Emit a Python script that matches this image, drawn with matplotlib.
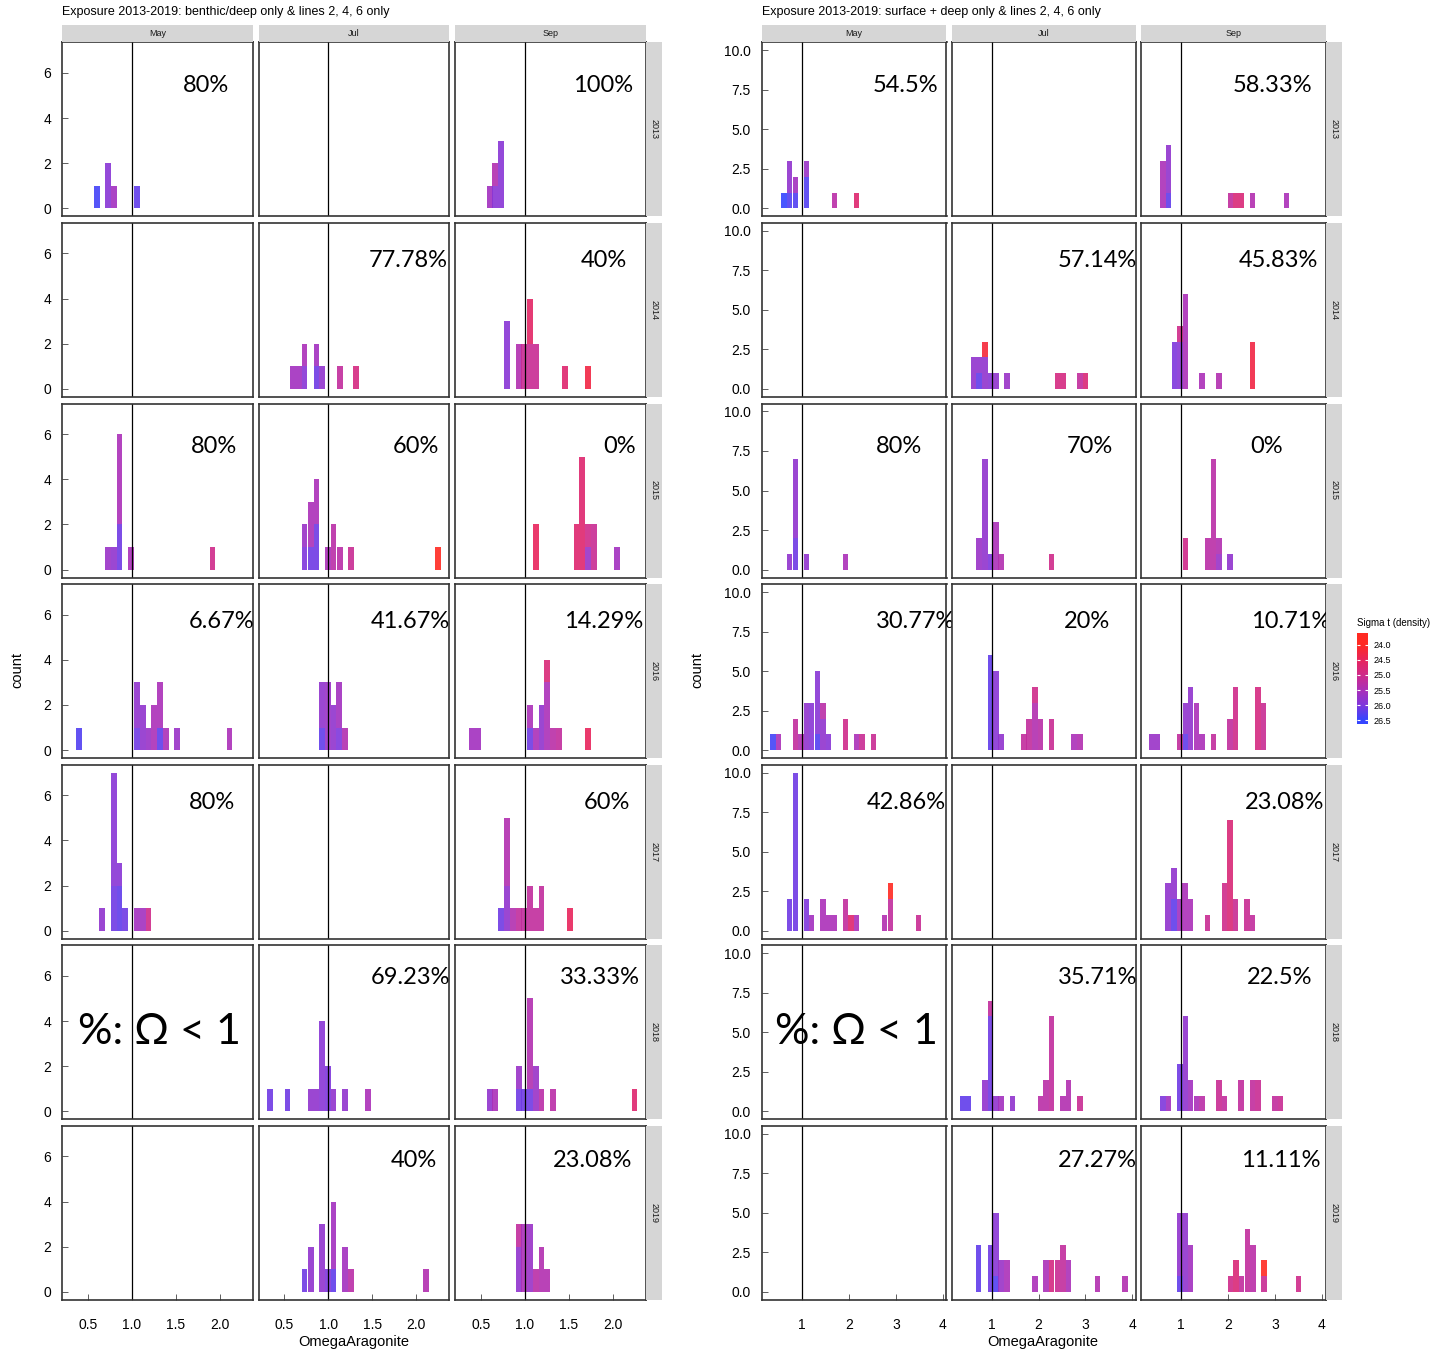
import numpy as np
import matplotlib
matplotlib.use('Agg')
import matplotlib.pyplot as plt
from matplotlib.colors import LinearSegmentedColormap, Normalize

months = ['May', 'Jul', 'Sep']
years = [2013, 2014, 2015, 2016, 2017, 2018, 2019]

# histogram bars per year: (month, OmegaAragonite bin centre, count, sigma t)
# entries with the same month and bin are stacked in the listed order
deep_2013 = [('May', 0.60, 1, 26.4), ('May', 0.73, 2, 25.9), ('May', 0.795, 1, 25.6), ('May', 1.06, 1, 26.2),
             ('Sep', 0.60, 1, 25.6), ('Sep', 0.665, 1, 25.9), ('Sep', 0.665, 1, 25.4), ('Sep', 0.73, 3, 25.9)]
deep_2014 = [('Jul', 0.60, 1, 25.6), ('Jul', 0.665, 1, 25.6), ('Jul', 0.73, 1, 25.9), ('Jul', 0.73, 1, 25.5),
             ('Jul', 0.865, 1, 26.1), ('Jul', 0.865, 1, 25.6), ('Jul', 0.93, 1, 25.8), ('Jul', 1.13, 1, 25.2),
             ('Jul', 1.32, 1, 24.9),
             ('Sep', 0.80, 3, 25.9), ('Sep', 0.93, 2, 25.4), ('Sep', 0.995, 2, 25.1), ('Sep', 1.06, 2, 25.1),
             ('Sep', 1.06, 2, 24.6), ('Sep', 1.125, 2, 25.1), ('Sep', 1.455, 1, 24.7), ('Sep', 1.72, 1, 24.3)]
deep_2015 = [('May', 0.73, 1, 25.7), ('May', 0.795, 1, 25.8), ('May', 0.86, 2, 26.1), ('May', 0.86, 4, 25.5),
             ('May', 0.995, 1, 25.5), ('May', 1.92, 1, 25.0),
             ('Jul', 0.73, 1, 26.0), ('Jul', 0.73, 1, 25.7), ('Jul', 0.80, 1, 26.1), ('Jul', 0.80, 2, 25.5),
             ('Jul', 0.865, 2, 26.1), ('Jul', 0.865, 2, 25.5), ('Jul', 0.995, 1, 25.5), ('Jul', 1.06, 2, 25.3),
             ('Jul', 1.13, 1, 25.3), ('Jul', 1.255, 1, 25.1), ('Jul', 2.25, 1, 24.0),
             ('Sep', 1.13, 2, 24.5), ('Sep', 1.59, 2, 24.7), ('Sep', 1.655, 5, 24.7), ('Sep', 1.72, 1, 25.7),
             ('Sep', 1.72, 1, 25.0), ('Sep', 1.785, 2, 25.1), ('Sep', 2.05, 1, 25.6)]
deep_2016 = [('May', 0.40, 1, 26.3), ('May', 1.06, 1, 26.1), ('May', 1.06, 2, 25.8), ('May', 1.125, 2, 25.8),
             ('May', 1.19, 1, 25.7), ('May', 1.255, 2, 25.5), ('May', 1.32, 1, 26.2), ('May', 1.32, 2, 25.5),
             ('May', 1.39, 1, 25.5), ('May', 1.52, 1, 25.7), ('May', 2.115, 1, 25.5),
             ('Jul', 0.93, 1, 26.2), ('Jul', 0.93, 2, 25.8), ('Jul', 0.995, 3, 25.7), ('Jul', 1.06, 2, 25.8),
             ('Jul', 1.125, 1, 26.0), ('Jul', 1.125, 2, 25.6), ('Jul', 1.19, 1, 25.4),
             ('Sep', 0.40, 1, 25.6), ('Sep', 0.465, 1, 25.6), ('Sep', 1.06, 1, 26.1), ('Sep', 1.06, 1, 25.5),
             ('Sep', 1.125, 1, 25.5), ('Sep', 1.19, 2, 25.8), ('Sep', 1.255, 3, 25.5), ('Sep', 1.255, 1, 24.8),
             ('Sep', 1.32, 1, 25.3), ('Sep', 1.39, 1, 25.2), ('Sep', 1.72, 1, 24.5)]
deep_2017 = [('May', 0.66, 1, 25.8), ('May', 0.795, 2, 26.1), ('May', 0.795, 5, 25.9), ('May', 0.86, 2, 26.2),
             ('May', 0.86, 1, 25.9), ('May', 0.925, 1, 26.1), ('May', 1.06, 1, 25.6), ('May', 1.125, 1, 25.6),
             ('May', 1.19, 1, 25.0),
             ('Sep', 0.73, 1, 26.1), ('Sep', 0.80, 2, 25.8), ('Sep', 0.80, 3, 25.4), ('Sep', 0.865, 1, 25.4),
             ('Sep', 0.93, 1, 25.2), ('Sep', 0.995, 1, 25.2), ('Sep', 1.06, 2, 25.2), ('Sep', 1.125, 1, 25.2),
             ('Sep', 1.19, 2, 25.2), ('Sep', 1.52, 1, 24.5)]
deep_2018 = [('Jul', 0.335, 1, 26.1), ('Jul', 0.535, 1, 26.1), ('Jul', 0.80, 1, 25.8), ('Jul', 0.865, 1, 25.8),
             ('Jul', 0.93, 4, 25.9), ('Jul', 0.995, 2, 26.0), ('Jul', 1.06, 1, 25.8), ('Jul', 1.19, 1, 25.8),
             ('Jul', 1.455, 1, 25.5),
             ('Sep', 0.60, 1, 25.8), ('Sep', 0.665, 1, 25.5), ('Sep', 0.93, 1, 26.1), ('Sep', 0.93, 1, 25.7),
             ('Sep', 0.995, 1, 26.1), ('Sep', 1.06, 1, 26.1), ('Sep', 1.06, 4, 25.4), ('Sep', 1.125, 2, 25.7),
             ('Sep', 1.19, 1, 25.3), ('Sep', 1.32, 1, 25.3), ('Sep', 2.25, 1, 24.7)]
deep_2019 = [('Jul', 0.73, 1, 26.1), ('Jul', 0.80, 2, 25.8), ('Jul', 0.93, 3, 25.8), ('Jul', 0.995, 1, 26.0),
             ('Jul', 1.06, 1, 26.2), ('Jul', 1.06, 3, 25.6), ('Jul', 1.19, 2, 25.6), ('Jul', 1.255, 1, 25.3),
             ('Jul', 2.115, 1, 25.4),
             ('Sep', 0.93, 2, 25.8), ('Sep', 0.93, 1, 25.2), ('Sep', 0.995, 3, 25.5), ('Sep', 1.06, 3, 25.7),
             ('Sep', 1.125, 1, 25.3), ('Sep', 1.19, 2, 25.4), ('Sep', 1.255, 1, 25.4)]

surf_2013 = [('May', 0.61, 1, 26.5), ('May', 0.73, 1, 26.3), ('May', 0.73, 2, 25.8), ('May', 0.85, 1, 26.3),
             ('May', 0.85, 1, 25.6), ('May', 1.09, 2, 26.3), ('May', 1.09, 1, 25.7), ('May', 1.69, 1, 25.3),
             ('May', 2.16, 1, 24.7),
             ('Sep', 0.61, 3, 25.5), ('Sep', 0.73, 1, 26.2), ('Sep', 0.73, 3, 25.8), ('Sep', 2.05, 1, 25.2),
             ('Sep', 2.17, 1, 24.8), ('Sep', 2.29, 1, 24.8), ('Sep', 2.52, 1, 25.4), ('Sep', 3.25, 1, 25.5)]
surf_2014 = [('Jul', 0.61, 2, 25.8), ('Jul', 0.73, 1, 26.2), ('Jul', 0.73, 1, 25.8), ('Jul', 0.85, 2, 25.8),
             ('Jul', 0.85, 1, 24.2), ('Jul', 0.97, 1, 25.9), ('Jul', 1.09, 1, 25.8), ('Jul', 1.32, 1, 25.7),
             ('Jul', 2.40, 1, 24.9), ('Jul', 2.52, 1, 24.9), ('Jul', 2.88, 1, 25.2), ('Jul', 3.00, 1, 24.8),
             ('Sep', 0.85, 3, 26.0), ('Sep', 0.97, 3, 25.9), ('Sep', 0.97, 1, 25.0), ('Sep', 1.09, 6, 25.5),
             ('Sep', 1.44, 1, 25.5), ('Sep', 1.80, 1, 25.4), ('Sep', 2.52, 3, 24.3)]
surf_2015 = [('May', 0.73, 1, 25.8), ('May', 0.85, 2, 26.1), ('May', 0.85, 5, 25.8), ('May', 1.09, 1, 25.8),
             ('May', 1.92, 1, 25.5),
             ('Jul', 0.73, 2, 25.7), ('Jul', 0.85, 7, 25.8), ('Jul', 0.97, 1, 26.0), ('Jul', 1.09, 3, 25.5),
             ('Jul', 1.20, 1, 25.4), ('Jul', 2.28, 1, 25.0),
             ('Sep', 1.09, 2, 25.0), ('Sep', 1.57, 2, 25.3), ('Sep', 1.69, 7, 25.3), ('Sep', 1.80, 1, 25.7),
             ('Sep', 1.80, 1, 25.4), ('Sep', 2.04, 1, 25.8)]
surf_2016 = [('May', 0.37, 1, 26.4), ('May', 0.49, 1, 25.5), ('May', 0.85, 2, 25.2), ('May', 0.97, 1, 25.4),
             ('May', 1.09, 3, 25.8), ('May', 1.20, 3, 25.9), ('May', 1.32, 1, 26.3), ('May', 1.32, 4, 25.9),
             ('May', 1.44, 2, 25.8), ('May', 1.44, 1, 25.3), ('May', 1.56, 1, 25.9), ('May', 1.92, 2, 25.0),
             ('May', 2.16, 1, 25.5), ('May', 2.28, 1, 25.1), ('May', 2.52, 1, 25.1),
             ('Jul', 0.97, 6, 26.2), ('Jul', 1.09, 5, 25.9), ('Jul', 1.20, 1, 25.8), ('Jul', 1.69, 1, 25.2),
             ('Jul', 1.80, 2, 25.2), ('Jul', 1.92, 3, 25.4), ('Jul', 1.92, 1, 25.0), ('Jul', 2.04, 2, 25.3),
             ('Jul', 2.28, 2, 25.1), ('Jul', 2.76, 1, 25.5), ('Jul', 2.88, 1, 25.4),
             ('Sep', 0.36, 1, 25.7), ('Sep', 0.48, 1, 25.7), ('Sep', 0.97, 1, 25.2), ('Sep', 1.09, 1, 26.2),
             ('Sep', 1.09, 2, 25.8), ('Sep', 1.20, 4, 25.8), ('Sep', 1.32, 3, 25.5), ('Sep', 1.44, 1, 25.5),
             ('Sep', 1.69, 1, 25.2), ('Sep', 2.04, 2, 25.2), ('Sep', 2.16, 4, 25.0), ('Sep', 2.64, 4, 24.9),
             ('Sep', 2.76, 3, 25.1)]
surf_2017 = [('May', 0.73, 2, 26.1), ('May', 0.85, 10, 26.1), ('May', 1.09, 2, 26.0), ('May', 1.20, 1, 25.6),
             ('May', 1.44, 2, 25.5), ('May', 1.56, 1, 25.5), ('May', 1.68, 1, 25.5), ('May', 1.92, 2, 25.2),
             ('May', 2.04, 1, 24.7), ('May', 2.16, 1, 25.5), ('May', 2.76, 1, 25.4), ('May', 2.88, 2, 25.2),
             ('May', 2.88, 1, 24.0), ('May', 3.48, 1, 25.1),
             ('Sep', 0.72, 3, 25.8), ('Sep', 0.84, 2, 26.2), ('Sep', 0.84, 2, 25.8), ('Sep', 0.96, 2, 25.6),
             ('Sep', 1.08, 3, 25.5), ('Sep', 1.20, 2, 25.5), ('Sep', 1.56, 1, 25.1), ('Sep', 1.92, 3, 25.0),
             ('Sep', 2.04, 7, 24.8), ('Sep', 2.16, 2, 25.1), ('Sep', 2.40, 2, 25.1), ('Sep', 2.52, 1, 25.2)]
surf_2018 = [('Jul', 0.37, 1, 26.2), ('Jul', 0.49, 1, 26.2), ('Jul', 0.85, 2, 25.8), ('Jul', 0.97, 6, 26.1),
             ('Jul', 0.97, 1, 25.2), ('Jul', 1.09, 1, 25.8), ('Jul', 1.20, 1, 25.6), ('Jul', 1.44, 1, 25.8),
             ('Jul', 2.04, 1, 25.3), ('Jul', 2.16, 2, 25.3), ('Jul', 2.28, 6, 25.2), ('Jul', 2.52, 1, 25.4),
             ('Jul', 2.64, 2, 25.4), ('Jul', 2.88, 1, 25.1),
             ('Sep', 0.61, 1, 26.0), ('Sep', 0.73, 1, 25.6), ('Sep', 0.97, 3, 26.1), ('Sep', 1.09, 6, 25.8),
             ('Sep', 1.20, 2, 25.6), ('Sep', 1.32, 1, 25.5), ('Sep', 1.44, 1, 25.3), ('Sep', 1.80, 2, 25.1),
             ('Sep', 1.92, 1, 25.2), ('Sep', 2.28, 2, 25.2), ('Sep', 2.52, 2, 25.2), ('Sep', 2.64, 2, 25.1),
             ('Sep', 3.00, 1, 25.2), ('Sep', 3.12, 1, 25.1)]
surf_2019 = [('Jul', 0.72, 3, 26.2), ('Jul', 0.97, 3, 26.1), ('Jul', 1.09, 1, 26.3), ('Jul', 1.09, 4, 25.9),
             ('Jul', 1.20, 2, 25.7), ('Jul', 1.32, 2, 25.5), ('Jul', 1.92, 1, 25.5), ('Jul', 2.16, 2, 25.5),
             ('Jul', 2.28, 2, 24.9), ('Jul', 2.40, 2, 25.1), ('Jul', 2.52, 3, 25.2), ('Jul', 2.64, 2, 25.5),
             ('Jul', 3.26, 1, 25.4), ('Jul', 3.85, 1, 25.4),
             ('Sep', 0.97, 1, 26.2), ('Sep', 0.97, 4, 25.8), ('Sep', 1.09, 5, 25.8), ('Sep', 1.20, 3, 25.6),
             ('Sep', 2.05, 1, 25.0), ('Sep', 2.17, 2, 24.8), ('Sep', 2.29, 1, 25.2), ('Sep', 2.41, 4, 25.2),
             ('Sep', 2.53, 3, 25.3), ('Sep', 2.77, 1, 25.1), ('Sep', 2.77, 1, 24.0), ('Sep', 3.50, 1, 25.0)]

deep_bars = [deep_2013, deep_2014, deep_2015, deep_2016, deep_2017, deep_2018, deep_2019]
surf_bars = [surf_2013, surf_2014, surf_2015, surf_2016, surf_2017, surf_2018, surf_2019]

# share of samples with Omega < 1 (rows = years, cols = months)
deep_pct = [['80%', '', '100%'],
            ['', '77.78%', '40%'],
            ['80%', '60%', '0%'],
            ['6.67%', '41.67%', '14.29%'],
            ['80%', '', '60%'],
            ['', '69.23%', '33.33%'],
            ['', '40%', '23.08%']]
surf_pct = [['54.5%', '', '58.33%'],
            ['', '57.14%', '45.83%'],
            ['80%', '70%', '0%'],
            ['30.77%', '20%', '10.71%'],
            ['42.86%', '', '23.08%'],
            ['', '35.71%', '22.5%'],
            ['', '27.27%', '11.11%']]

# label placement (axes fraction)
deep_pct_x = [[0.755, 0, 0.777], [0, 0.788, 0.784], [0.80, 0.829, 0.865], [0.838, 0.795, 0.779],
              [0.787, 0, 0.797], [0, 0.80, 0.761], [0, 0.813, 0.72]]
surf_pct_x = [[0.777, 0, 0.711], [0, 0.79, 0.745], [0.742, 0.752, 0.679], [0.832, 0.733, 0.812],
              [0.784, 0, 0.778], [0, 0.793, 0.75], [0, 0.793, 0.755]]
pct_y = [0.754, 0.785, 0.754, 0.785, 0.78, 0.815, 0.80]

sig_ticks = [24.0, 24.5, 25.0, 25.5, 26.0, 26.5]

cmap = LinearSegmentedColormap.from_list(
    'sig', ['#ff2a22', '#e8245c', '#cf2a8a', '#ab2fb8', '#7f36dc', '#3545ff'])
norm = Normalize(vmin=24.0, vmax=26.5)

W, H = 1439, 1352
fig = plt.figure(figsize=(W / 100, H / 100), dpi=100)
base_font = ['Liberation Sans', 'DejaVu Sans']
pct_font = ['Lato', 'DejaVu Sans']


def px_axes(x0, y0, w, h):
    return fig.add_axes([x0 / W, 1 - (y0 + h) / H, w / W, h / H])


def draw_grid(bars, pct, pct_x, col_x, col_w, strip_x, xlim, ylim, bw, xticks, xticklabels,
              yticks, yticklabels, title, title_x):
    row_top0, row_h, row_step = 42.3, 174, 180.6
    last = len(years) - 1
    for r, yr in enumerate(years):
        y0 = row_top0 + r * row_step
        for c, mon in enumerate(months):
            ax = px_axes(col_x[c], y0, col_w, row_h)
            bottoms = {}
            for m, x, n, s in bars[r]:
                if m != mon:
                    continue
                b = bottoms.get(x, 0)
                ax.bar(x, n, width=bw, bottom=b, color=cmap(norm(s)), alpha=0.9, linewidth=0)
                bottoms[x] = b + n
            ax.axvline(1.0, color='black', lw=0.9)
            ax.set_xlim(*xlim)
            ax.set_ylim(*ylim)
            for sp in ax.spines.values():
                sp.set_color('#333333')
                sp.set_linewidth(1.2)
            ax.tick_params(direction='in', length=4, width=0.6, color='#444444',
                           labelsize=10, pad=8, left=(c == 0), bottom=(r == last))
            ax.set_xticks(xticks)
            ax.set_yticks(yticks)
            if c == 0:
                ax.set_yticklabels(yticklabels, family=base_font)
            else:
                ax.set_yticklabels([])
            if r == last:
                ax.set_xticklabels(xticklabels, family=base_font)
                ax.tick_params(axis='x', pad=13)
            else:
                ax.set_xticklabels([])
            if pct[r][c]:
                ax.text(pct_x[r][c], pct_y[r], pct[r][c], transform=ax.transAxes,
                        ha='center', va='center', fontsize=17, family=pct_font)
            if yr == 2018 and mon == 'May':
                ax.text(0.51, 0.5, '%: Ω < 1', transform=ax.transAxes, ha='center',
                        va='center', fontsize=31, family=pct_font)
            if r == 0:
                sax = px_axes(col_x[c], 25, col_w, 17)
                sax.set_facecolor('#d6d6d6')
                sax.set_xticks([])
                sax.set_yticks([])
                for sp in sax.spines.values():
                    sp.set_visible(False)
                sax.text(0.5, 0.5, mon, ha='center', va='center', fontsize=6.5,
                         color='#1a1a1a', family=base_font)
        rax = px_axes(strip_x, y0, 16, row_h)
        rax.set_facecolor('#d6d6d6')
        rax.set_xticks([])
        rax.set_yticks([])
        for sp in rax.spines.values():
            sp.set_visible(False)
        rax.text(0.5, 0.5, str(yr), ha='center', va='center', rotation=-90, fontsize=6.5,
                 color='#1a1a1a', family=base_font)
    fig.text(title_x / W, 1 - 12 / H, title, ha='left', va='center', fontsize=9,
             family=base_font)


draw_grid(deep_bars, deep_pct, deep_pct_x, [62, 258.5, 455], 190.5, 646,
          (0.205, 2.376), (-0.35, 7.35), 0.066,
          [0.5, 1.0, 1.5, 2.0], ['0.5', '1.0', '1.5', '2.0'],
          [0, 2, 4, 6], ['0', '2', '4', '6'],
          'Exposure 2013-2019: benthic/deep only & lines 2, 4, 6 only', 62)
draw_grid(surf_bars, surf_pct, surf_pct_x, [762, 951.5, 1141], 184.5, 1326,
          (0.139, 4.08), (-0.5, 10.5), 0.118,
          [1, 2, 3, 4], ['1', '2', '3', '4'],
          [0, 2.5, 5, 7.5, 10], ['0.0', '2.5', '5.0', '7.5', '10.0'],
          'Exposure 2013-2019: surface + deep only & lines 2, 4, 6 only', 762)

# axis titles
fig.text(17 / W, 1 - 670 / H, 'count', rotation=90, ha='center', va='center', fontsize=10.5,
         family=base_font)
fig.text(697 / W, 1 - 670 / H, 'count', rotation=90, ha='center', va='center', fontsize=10.5,
         family=base_font)
fig.text(354 / W, 1 - 1342 / H, 'OmegaAragonite', ha='center', va='center', fontsize=10.5,
         family=base_font)
fig.text(1043 / W, 1 - 1342 / H, 'OmegaAragonite', ha='center', va='center', fontsize=10.5,
         family=base_font)

# colour legend
cax = px_axes(1357, 633, 11, 91)
yy = np.linspace(23.62, 26.62, 256)
cax.imshow(yy[:, None], cmap=cmap, norm=norm, aspect='auto', origin='lower',
           extent=[0, 1, 23.62, 26.62])
cax.set_ylim(26.62, 23.62)
cax.set_xticks([])
cax.set_yticks(sig_ticks)
cax.set_yticklabels([f'{t:.1f}' for t in sig_ticks], family=base_font)
cax.yaxis.tick_right()
cax.tick_params(axis='y', direction='in', length=2.5, color='white', labelsize=6.5, pad=4,
                left=True, right=True)
for sp in cax.spines.values():
    sp.set_visible(False)
fig.text(1357 / W, 1 - 623 / H, 'Sigma t (density)', ha='left', va='center', fontsize=7,
         family=base_font)

fig.savefig('out.png', dpi=100)
